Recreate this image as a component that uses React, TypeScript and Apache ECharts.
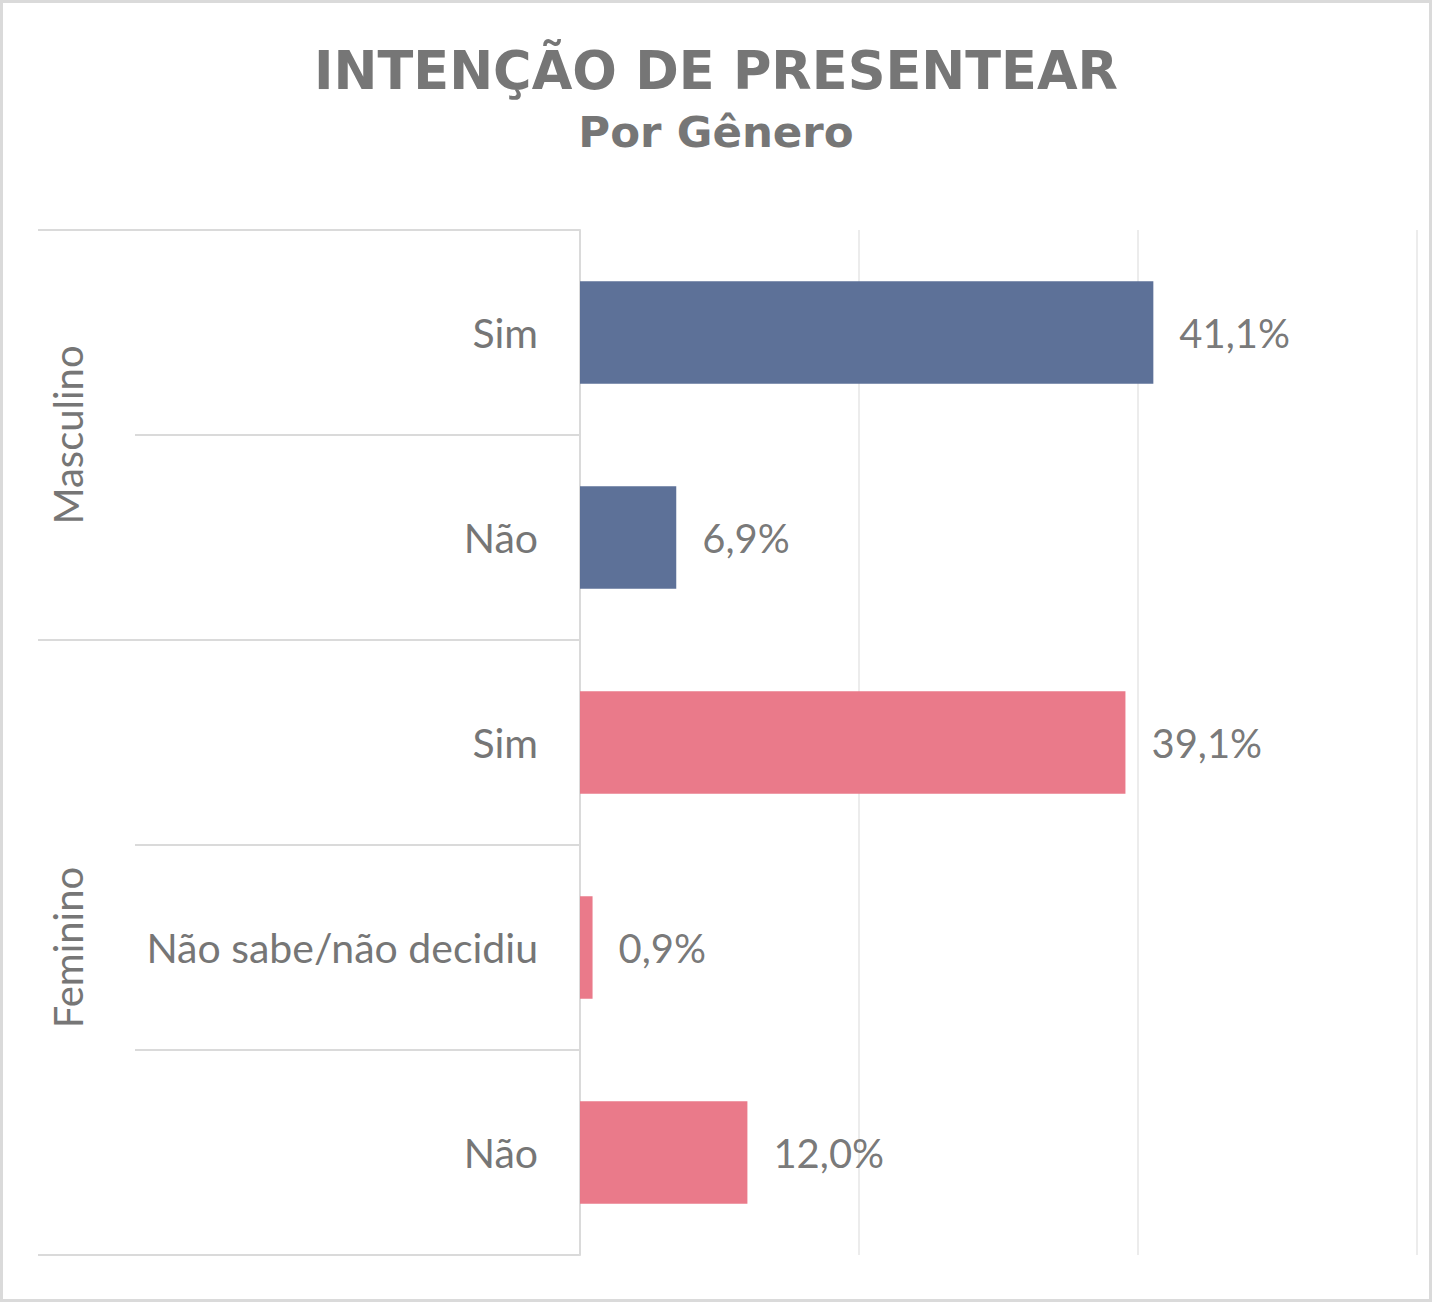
import { useEffect, useRef } from "react";
import * as echarts from "echarts";

const categories = ["Sim", "Não", "Sim", "Não sabe/não decidiu", "Não"];
const values = [41.1, 6.9, 39.1, 0.9, 12.0];
const groups = ["Masculino", "Masculino", "Feminino", "Feminino", "Feminino"];
const groupNames = ["Masculino", "Feminino"];
const groupColors: Record<string, string> = { Masculino: "#586C95", Feminino: "#E97686" };
const xMax = 60;
const xInterval = 20;

const FONT = "Lato, 'Noto Sans', sans-serif";
const TITLE_FONT = "'DejaVu Sans', 'Open Sans', sans-serif";
const GRAY = "#767676";
const LINE = "#DADADA";

export default function App() {
  const ref = useRef<HTMLDivElement>(null);
  useEffect(() => {
    document.body.style.margin = "0";
    const chart = echarts.init(ref.current!, null, { renderer: "svg" });
    chart.setOption({
      animation: false,
      backgroundColor: "#ffffff",
      title: [
        {
          text: "INTENÇÃO DE PRESENTEAR",
          left: "center",
          top: 39,
          textStyle: { fontFamily: TITLE_FONT, fontSize: 52.5, fontWeight: "bold", color: GRAY },
        },
        {
          text: "Por Gênero",
          left: "center",
          top: 105,
          textStyle: { fontFamily: TITLE_FONT, fontSize: 43.5, fontWeight: "bold", color: GRAY },
        },
      ],
      grid: { left: 580, right: 15, top: 230, bottom: 47, containLabel: false },
      xAxis: {
        type: "value",
        min: 0,
        max: xMax,
        interval: xInterval,
        axisLabel: { show: false },
        axisLine: { show: false },
        axisTick: { show: false },
        splitLine: { show: true, lineStyle: { color: "#ECECEC", width: 2 } },
      },
      yAxis: {
        type: "category",
        inverse: true,
        data: categories,
        axisLine: { show: true, lineStyle: { color: LINE, width: 2 } },
        axisTick: { show: true, length: 445, lineStyle: { color: LINE, width: 2 } },
        axisLabel: { margin: 42, fontFamily: FONT, fontSize: 41, color: GRAY },
      },
      series: [
        {
          type: "bar",
          barWidth: "50%",
          data: values.map((v, i) => ({
            value: v,
            itemStyle: { color: groupColors[groups[i]], opacity: 0.97 },
          })),
          label: {
            show: true,
            position: "right",
            distance: 26,
            fontFamily: FONT,
            fontSize: 40,
            color: GRAY,
            formatter: (p: any) => p.value.toFixed(1).replace(".", ",") + "%",
          },
        },
      ],
    });

    const y = (i: number) => chart.convertToPixel({ yAxisIndex: 0 }, i) as number;
    const band = y(1) - y(0);
    const axisX = chart.convertToPixel({ xAxisIndex: 0 }, 0) as number;
    const graphics: any[] = [
      {
        type: "rect",
        shape: { x: 1.5, y: 1.5, width: 1429, height: 1299 },
        style: { fill: "none", stroke: LINE, lineWidth: 3 },
        silent: true,
      },
    ];
    groupNames.forEach((g, gi) => {
      const first = groups.indexOf(g);
      const last = groups.lastIndexOf(g);
      const top = y(first) - band / 2;
      const bottom = y(last) + band / 2;
      graphics.push({
        type: "line",
        shape: { x1: 38, y1: top, x2: axisX, y2: top },
        style: { stroke: LINE, lineWidth: 2 },
      });
      if (gi === groupNames.length - 1) {
        graphics.push({
          type: "line",
          shape: { x1: 38, y1: bottom, x2: axisX, y2: bottom },
          style: { stroke: LINE, lineWidth: 2 },
        });
      }
      graphics.push({
        type: "text",
        x: 68,
        y: (top + bottom) / 2,
        rotation: Math.PI / 2,
        style: {
          text: g,
          fontFamily: FONT,
          fontSize: 40,
          fill: GRAY,
          textAlign: "center",
          textVerticalAlign: "middle",
        },
      });
    });
    chart.setOption({ graphic: graphics });
    return () => chart.dispose();
  }, []);
  return <div ref={ref} style={{ width: 1432, height: 1302 }} />;
}
